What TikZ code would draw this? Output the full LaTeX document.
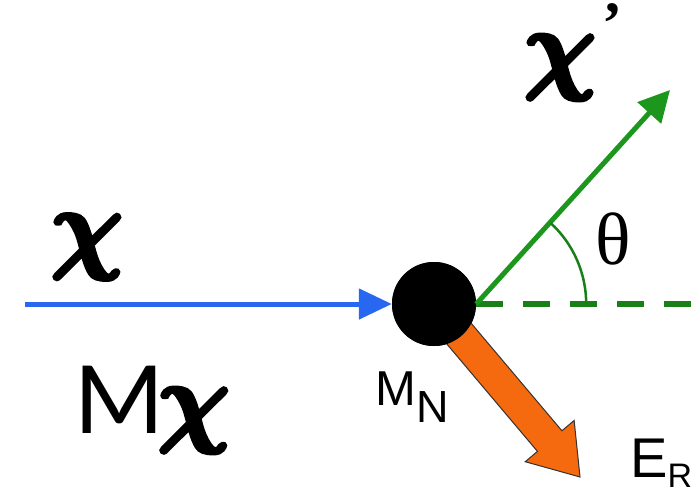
\RequirePackage{fix-cm}
\documentclass[tikz,border=0pt]{standalone}
\usepackage{bm}
\usepackage{fontspec}
\setmainfont{Liberation Sans}
\newfontfamily\thetafont{Liberation Serif}
\newfontfamily\calfont{Carlito}
\usetikzlibrary{arrows.meta,calc}
\definecolor{myblue}{RGB}{40,104,240}
\definecolor{mygreen}{RGB}{28,150,28}
\definecolor{mydkgreen}{RGB}{25,128,25}
\definecolor{myorange}{RGB}{245,105,15}
% heavy (stroked) bold chi
\newcommand{\chisym}{\special{pdf:literal direct 2 Tr 4.5 w}$\bm{\chi}$\special{pdf:literal direct 0 Tr 1 w}}
\begin{document}
\begin{tikzpicture}[x=1pt,y=-1pt,
  bluearrow/.style={draw=myblue,line width=5pt,-{Triangle[length=33pt,width=30pt]}},
  greenarrow/.style={draw=mygreen,line width=5pt,-{Triangle[length=31pt,width=31pt]}},
  greendash/.style={draw=mydkgreen,line width=6pt,dash pattern=on 27pt off 20pt},
  anglearc/.style={draw=mydkgreen,line width=2.5pt},
  fatarrow/.style={fill=myorange,draw=black!80,line width=1pt,line join=miter},
  nucleus/.style={circle,fill=black,minimum size=84pt,inner sep=0pt},
  label/.style={inner sep=0pt}]
\useasboundingbox (0,0) rectangle (698,493);
% nodes and coordinates
\node[nucleus] (nuc) at (434,304) {};
\coordinate (bstart) at (25,304);
\coordinate (gtip) at (670,90);
\coordinate (dend) at (698,304);
\coordinate (otip) at (580,477);
% orange recoil arrow (behind nucleus)
\coordinate (ohb) at ($(otip)!47pt!(nuc.center)$);
\filldraw[fatarrow]
  ($(nuc.center)!16pt!90:(otip)$) --
  ($(ohb)!16pt!-90:(nuc.center)$) --
  ($(ohb)!32pt!-90:(nuc.center)$) --
  (otip) --
  ($(ohb)!32pt!90:(nuc.center)$) --
  ($(ohb)!16pt!90:(nuc.center)$) --
  ($(nuc.center)!16pt!-90:(otip)$) -- cycle;
\node[nucleus] at (nuc) {};
% incoming chi
\draw[bluearrow] (bstart) -- (nuc);
% outgoing chi'
\draw[greendash] (nuc.east) -- (dend);
\draw[greenarrow] (nuc.east) -- (gtip);
\draw[anglearc] ($(nuc.east)+(110,0)$) arc[start angle=0,end angle=47.5,radius=110pt];
% labels
\node[label,font=\fontsize{100}{100}\selectfont] (chi) at (87,247) {\chisym};
\node[label,anchor=base west] (mchi) at (74,433) {{\calfont\fontsize{105}{105}\selectfont M}\kern-6pt{\fontsize{100}{100}\selectfont\chisym}};
\node[label,anchor=base west] (chip) at (524,80) {{\fontsize{100}{100}\selectfont\chisym}\kern6pt\raisebox{37pt}{\fontsize{60}{60}\selectfont\thetafont\bfseries ’}};
\node[label,font=\fontsize{74}{74}\selectfont\thetafont] (theta) at (613,239) {θ};
\node[label,anchor=base west] (mn) at (375,405) {\fontsize{49}{49}\selectfont M\raisebox{-17pt}{\fontsize{45}{45}\selectfont N}};
\node[label,anchor=base west] (er) at (630,477) {\fontsize{56}{56}\selectfont E\raisebox{-10pt}{\fontsize{34}{34}\selectfont R}};
\end{tikzpicture}
\end{document}
